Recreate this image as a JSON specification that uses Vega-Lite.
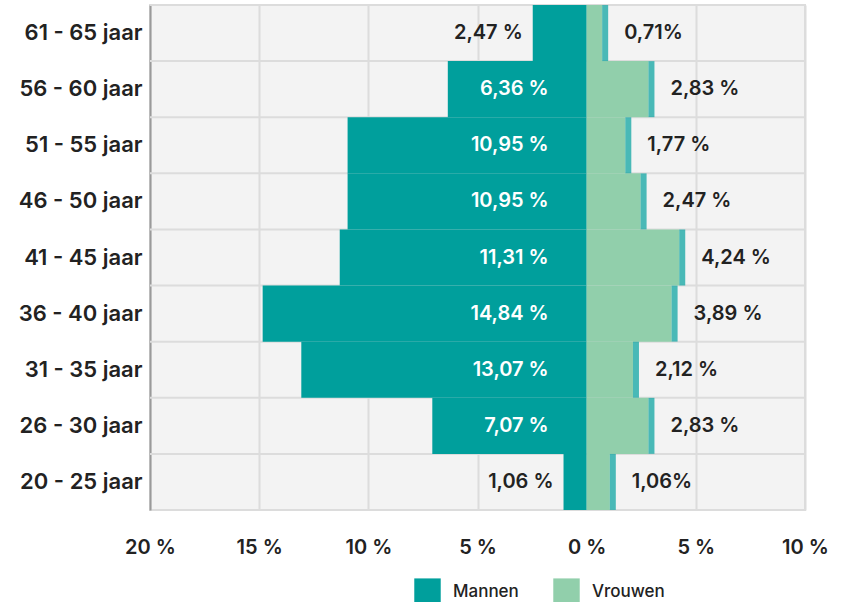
{
  "$schema": "https://vega.github.io/schema/vega-lite/v6.json",
  "width": 655,
  "height": 505,
  "autosize": {"type": "none"},
  "padding": {"left": 150, "top": 5, "right": 44, "bottom": 92},
  "background": "white",
  "config": {
    "view": {"fill": "#f3f3f3", "stroke": "#dcdcdc", "strokeWidth": 2},
    "font": "Inter"
  },
  "data": {
    "values": [
      {"leeftijd": "61 - 65 jaar", "geslacht": "Mannen", "pct": 2.47, "label": "2,47 %"},
      {"leeftijd": "56 - 60 jaar", "geslacht": "Mannen", "pct": 6.36, "label": "6,36 %"},
      {"leeftijd": "51 - 55 jaar", "geslacht": "Mannen", "pct": 10.95, "label": "10,95 %"},
      {"leeftijd": "46 - 50 jaar", "geslacht": "Mannen", "pct": 10.95, "label": "10,95 %"},
      {"leeftijd": "41 - 45 jaar", "geslacht": "Mannen", "pct": 11.31, "label": "11,31 %"},
      {"leeftijd": "36 - 40 jaar", "geslacht": "Mannen", "pct": 14.84, "label": "14,84 %"},
      {"leeftijd": "31 - 35 jaar", "geslacht": "Mannen", "pct": 13.07, "label": "13,07 %"},
      {"leeftijd": "26 - 30 jaar", "geslacht": "Mannen", "pct": 7.07, "label": "7,07 %"},
      {"leeftijd": "20 - 25 jaar", "geslacht": "Mannen", "pct": 1.06, "label": "1,06 %"},
      {"leeftijd": "61 - 65 jaar", "geslacht": "Vrouwen", "pct": 0.71, "label": "0,71%"},
      {"leeftijd": "56 - 60 jaar", "geslacht": "Vrouwen", "pct": 2.83, "label": "2,83 %"},
      {"leeftijd": "51 - 55 jaar", "geslacht": "Vrouwen", "pct": 1.77, "label": "1,77 %"},
      {"leeftijd": "46 - 50 jaar", "geslacht": "Vrouwen", "pct": 2.47, "label": "2,47 %"},
      {"leeftijd": "41 - 45 jaar", "geslacht": "Vrouwen", "pct": 4.24, "label": "4,24 %"},
      {"leeftijd": "36 - 40 jaar", "geslacht": "Vrouwen", "pct": 3.89, "label": "3,89 %"},
      {"leeftijd": "31 - 35 jaar", "geslacht": "Vrouwen", "pct": 2.12, "label": "2,12 %"},
      {"leeftijd": "26 - 30 jaar", "geslacht": "Vrouwen", "pct": 2.83, "label": "2,83 %"},
      {"leeftijd": "20 - 25 jaar", "geslacht": "Vrouwen", "pct": 1.06, "label": "1,06%"}
    ]
  },
  "transform": [
    {"calculate": "datum.geslacht == 'Mannen' ? -datum.pct : datum.pct", "as": "xval"}
  ],
  "encoding": {
    "y": {
      "field": "leeftijd",
      "type": "nominal",
      "sort": ["61 - 65 jaar", "56 - 60 jaar", "51 - 55 jaar", "46 - 50 jaar", "41 - 45 jaar", "36 - 40 jaar", "31 - 35 jaar", "26 - 30 jaar", "20 - 25 jaar"],
      "scale": {"paddingInner": 0, "paddingOuter": 0},
      "axis": {
        "title": null,
        "labelFontSize": 22,
        "labelFontWeight": 600,
        "labelColor": "#222222",
        "ticks": false,
        "domain": true,
        "domainColor": "#9a9a9a",
        "domainWidth": 2,
        "labelPadding": 8,
        "grid": false
      }
    }
  },
  "layer": [
    {
      "transform": [{"filter": "datum.geslacht == 'Mannen'"}],
      "mark": {"type": "rule", "color": "#dcdcdc", "strokeWidth": 2},
      "encoding": {
        "y": {
          "field": "leeftijd",
          "type": "nominal",
          "bandPosition": 0,
          "sort": ["61 - 65 jaar", "56 - 60 jaar", "51 - 55 jaar", "46 - 50 jaar", "41 - 45 jaar", "36 - 40 jaar", "31 - 35 jaar", "26 - 30 jaar", "20 - 25 jaar"]
        }
      }
    },
    {
      "mark": {"type": "bar"},
      "encoding": {
        "x": {
          "field": "xval",
          "type": "quantitative",
          "scale": {"domain": [-20, 10], "nice": false},
          "axis": {
            "title": null,
            "values": [-20, -15, -10, -5, 0, 5, 10],
            "labelExpr": "abs(datum.value) + ' %'",
            "grid": true,
            "gridColor": "#dcdcdc",
            "gridWidth": 2,
            "domain": false,
            "ticks": false,
            "labelFontSize": 20,
            "labelFontWeight": 600,
            "labelColor": "#222222",
            "labelPadding": 27,
            "labelFlush": false
          }
        },
        "color": {
          "field": "geslacht",
          "type": "nominal",
          "scale": {"domain": ["Mannen", "Vrouwen"], "range": ["#009f9c", "#91cfab"]},
          "legend": {
            "orient": "none",
            "legendX": 264,
            "legendY": 573,
            "direction": "horizontal",
            "title": null,
            "symbolType": "square",
            "symbolSize": 700,
            "symbolStrokeWidth": 0,
            "symbolOpacity": 1,
            "labelFontSize": 17,
            "labelFontWeight": 500,
            "labelColor": "#222222",
            "labelOffset": 12,
            "columnPadding": 34
          }
        }
      }
    },
    {
      "transform": [{"filter": "datum.geslacht == 'Vrouwen'"}],
      "mark": {"type": "tick", "orient": "vertical", "color": "#009f9c", "thickness": 6, "size": 56, "xOffset": 3},
      "encoding": {
        "x": {"field": "xval", "type": "quantitative"}
      }
    },
    {
      "transform": [{"filter": "datum.geslacht == 'Mannen' && datum.pct >= 5"}],
      "mark": {"type": "text", "align": "right", "baseline": "middle", "dx": -38, "color": "white", "fontSize": 20, "fontWeight": 600},
      "encoding": {
        "x": {"datum": 0, "type": "quantitative"},
        "text": {"field": "label"}
      }
    },
    {
      "transform": [{"filter": "datum.geslacht == 'Mannen' && datum.pct < 5"}],
      "mark": {"type": "text", "align": "right", "baseline": "middle", "dx": -10, "color": "#222222", "fontSize": 20, "fontWeight": 600},
      "encoding": {
        "x": {"field": "xval", "type": "quantitative"},
        "text": {"field": "label"}
      }
    },
    {
      "transform": [{"filter": "datum.geslacht == 'Vrouwen'"}],
      "mark": {"type": "text", "align": "left", "baseline": "middle", "dx": 22, "color": "#222222", "fontSize": 20, "fontWeight": 600},
      "encoding": {
        "x": {"field": "xval", "type": "quantitative"},
        "text": {"field": "label"}
      }
    }
  ]
}
